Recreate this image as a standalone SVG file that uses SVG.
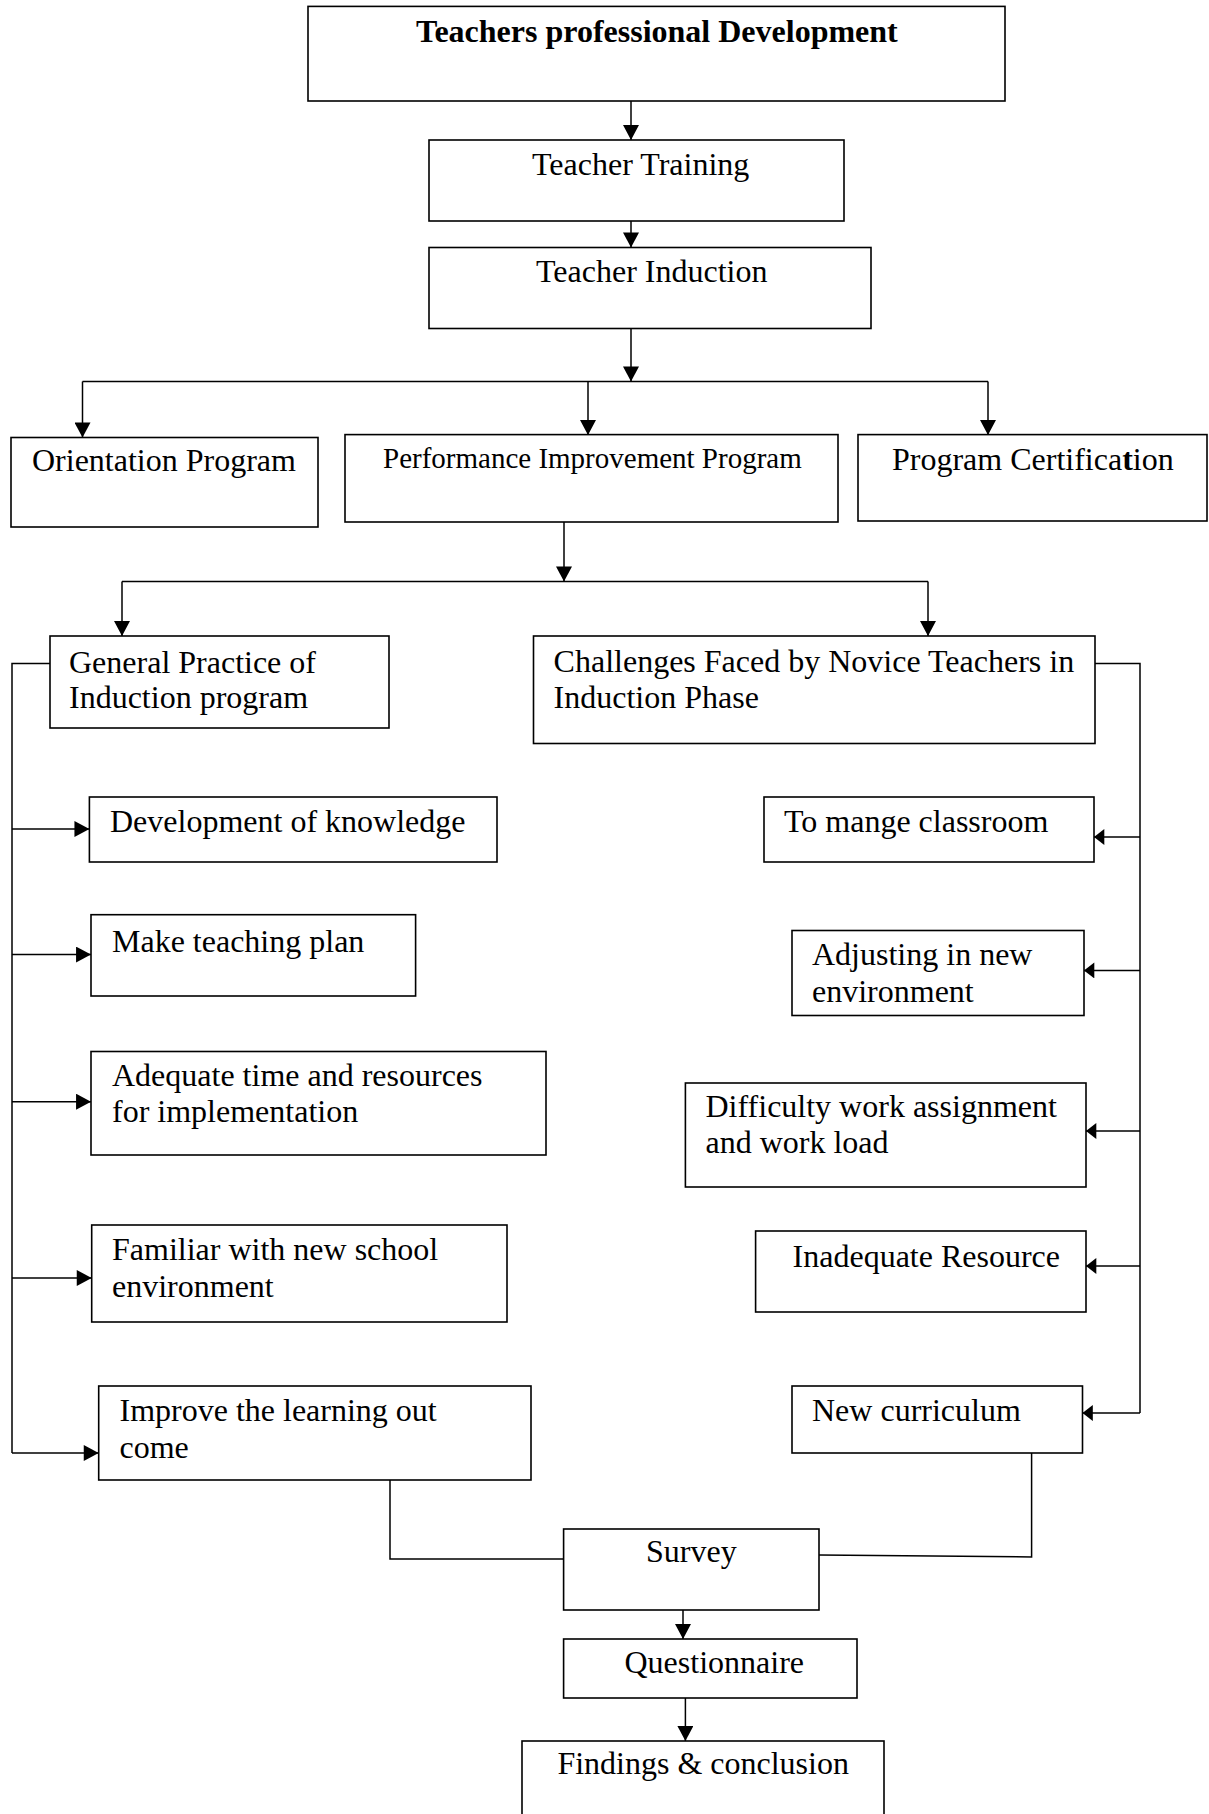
<svg xmlns="http://www.w3.org/2000/svg" width="1209" height="1814" viewBox="0 0 1209 1814">
<style>
.box{fill:#fff;stroke:#000;stroke-width:1.6}
.t{font-family:"Liberation Serif","Times New Roman",serif;font-size:32px;fill:#000}
.b{font-weight:bold}
.s{font-size:29px}
.c{fill:none;stroke:#000;stroke-width:1.5}
</style>
<defs>
<marker id="ah" markerUnits="userSpaceOnUse" markerWidth="16" markerHeight="16" viewBox="0 0 14 15" refX="14" refY="7.5" orient="auto">
<path d="M0,0 L14,7.5 L0,15 Z" fill="#000"/>
</marker>
<marker id="ahs" markerUnits="userSpaceOnUse" markerWidth="12" markerHeight="16" viewBox="0 0 9 14" refX="9" refY="7" orient="auto">
<path d="M0,0 L9,7 L0,14 Z" fill="#000"/>
</marker>
</defs>
<rect width="1209" height="1814" fill="#fff"/>
<g id="connectors">
<path class="c" d="M631,101 V140" marker-end="url(#ah)"/>
<path class="c" d="M631,221 V247.5" marker-end="url(#ah)"/>
<path class="c" d="M631,328.5 V381.5" marker-end="url(#ah)"/>
<path class="c" d="M82.5,381.5 H988"/>
<path class="c" d="M82.5,381.5 V437.5" marker-end="url(#ah)"/>
<path class="c" d="M588,381.5 V435" marker-end="url(#ah)"/>
<path class="c" d="M988,381.5 V435" marker-end="url(#ah)"/>
<path class="c" d="M564,522 V581.5" marker-end="url(#ah)"/>
<path class="c" d="M122,581.5 H928"/>
<path class="c" d="M122,581.5 V636" marker-end="url(#ah)"/>
<path class="c" d="M928,581.5 V636" marker-end="url(#ah)"/>
<path class="c" d="M50,663.5 H12 V1453"/>
<path class="c" d="M12,829 H89.4" marker-end="url(#ah)"/>
<path class="c" d="M12,954.6 H91" marker-end="url(#ah)"/>
<path class="c" d="M12,1101.7 H91" marker-end="url(#ah)"/>
<path class="c" d="M12,1278 H91.7" marker-end="url(#ah)"/>
<path class="c" d="M12,1453 H98.7" marker-end="url(#ah)"/>
<path class="c" d="M1095,663.5 H1140 V1413"/>
<path class="c" d="M1140,837 H1094" marker-end="url(#ahs)"/>
<path class="c" d="M1140,970.4 H1084" marker-end="url(#ahs)"/>
<path class="c" d="M1140,1131 H1086" marker-end="url(#ahs)"/>
<path class="c" d="M1140,1266 H1086" marker-end="url(#ahs)"/>
<path class="c" d="M1140,1413 H1082.5" marker-end="url(#ahs)"/>
<path class="c" d="M390,1478 V1559 H563.6"/>
<path class="c" d="M1031.6,1453 V1557 L819,1555"/>
<path class="c" d="M683,1610 V1639" marker-end="url(#ah)"/>
<path class="c" d="M685.4,1698 V1741" marker-end="url(#ah)"/>
</g>
<g id="n-tpd"><rect class="box" x="308" y="6.4" width="697" height="94.6"/><text class="t b" x="416" y="42">Teachers professional Development</text></g>
<g id="n-tt"><rect class="box" x="429" y="140" width="415" height="81"/><text class="t" x="532" y="175">Teacher Training</text></g>
<g id="n-ti"><rect class="box" x="429" y="247.5" width="442" height="81"/><text class="t" x="536" y="282">Teacher Induction</text></g>
<g id="n-op"><rect class="box" x="11" y="437.5" width="307" height="89.5"/><text class="t" x="32" y="471">Orientation Program</text></g>
<g id="n-pip"><rect class="box" x="345" y="434.6" width="493" height="87.4"/><text class="t s" x="383" y="468">Performance Improvement Program</text></g>
<g id="n-pc"><rect class="box" x="858" y="434.6" width="349" height="86.4"/><text class="t" x="892" y="470">Program Certifica<tspan class="b">t</tspan>ion</text></g>
<g id="n-gp"><rect class="box" x="50" y="636" width="339" height="92"/><text class="t" x="69" y="673">General Practice of</text><text class="t" x="69" y="708">Induction program</text></g>
<g id="n-ch"><rect class="box" x="533.5" y="636" width="561.5" height="107.5"/><text class="t" x="553.6" y="672">Challenges Faced by Novice Teachers in</text><text class="t" x="553.6" y="707.5">Induction Phase</text></g>
<g id="n-dk"><rect class="box" x="89.4" y="797" width="407.6" height="65"/><text class="t" x="110" y="832">Development of knowledge</text></g>
<g id="n-mc"><rect class="box" x="764" y="797" width="330" height="65"/><text class="t" x="784" y="832">To mange classroom</text></g>
<g id="n-mtp"><rect class="box" x="91" y="914.7" width="324.6" height="81.3"/><text class="t" x="112" y="951.5">Make teaching plan</text></g>
<g id="n-adj"><rect class="box" x="792" y="930.5" width="292" height="85"/><text class="t" x="812" y="965">Adjusting in new</text><text class="t" x="812" y="1001.7">environment</text></g>
<g id="n-atr"><rect class="box" x="91" y="1051.5" width="455" height="103.5"/><text class="t" x="112" y="1086">Adequate time and resources</text><text class="t" x="112" y="1121.5">for implementation</text></g>
<g id="n-dwa"><rect class="box" x="685.4" y="1083" width="400.6" height="104"/><text class="t" x="705.5" y="1116.7">Difficulty work assignment</text><text class="t" x="705.5" y="1153">and work load</text></g>
<g id="n-fam"><rect class="box" x="91.7" y="1225" width="415.3" height="97"/><text class="t" x="112" y="1260">Familiar with new school</text><text class="t" x="112" y="1297">environment</text></g>
<g id="n-ir"><rect class="box" x="755.6" y="1231" width="330.4" height="81"/><text class="t" x="792.6" y="1267">Inadequate Resource</text></g>
<g id="n-ilo"><rect class="box" x="98.7" y="1386" width="432.3" height="94"/><text class="t" x="119.5" y="1420.6">Improve the learning out</text><text class="t" x="119.5" y="1458">come</text></g>
<g id="n-nc"><rect class="box" x="792" y="1386" width="290.5" height="67"/><text class="t" x="812" y="1420.6">New curriculum</text></g>
<g id="n-sv"><rect class="box" x="563.6" y="1529" width="255.4" height="81"/><text class="t" x="646" y="1562">Survey</text></g>
<g id="n-q"><rect class="box" x="563.6" y="1639" width="293.4" height="59"/><text class="t" x="624.5" y="1672.5">Questionnaire</text></g>
<g id="n-fc"><rect class="box" x="522" y="1741" width="362" height="90"/><text class="t" x="557.4" y="1774">Findings &amp; conclusion</text></g>
</svg>
